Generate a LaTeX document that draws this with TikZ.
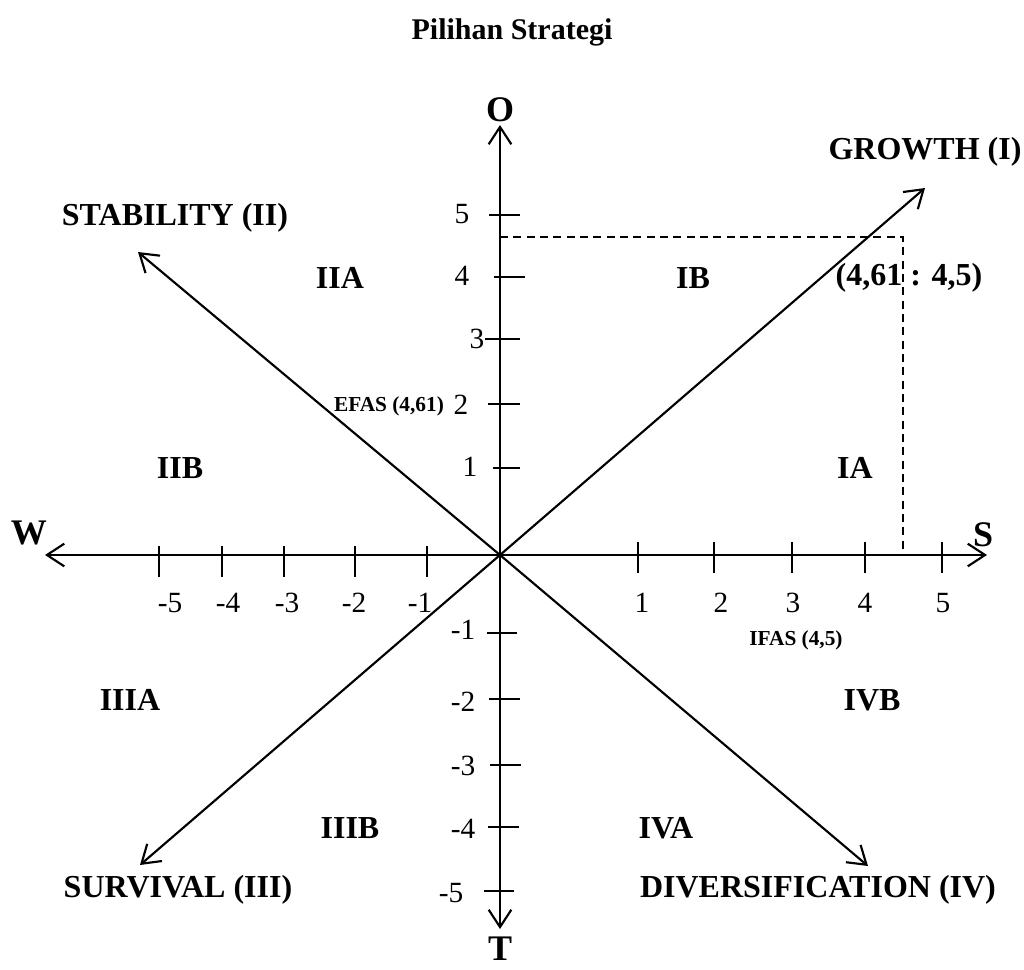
\documentclass[tikz,border=0pt]{standalone}
\usepackage{fontspec}
\setmainfont{Liberation Serif}
\usetikzlibrary{arrows.meta}
\tikzset{
  axisline/.style={line width=1.6pt, -{Straight Barb[length=13pt,width=17pt,line width=1.6pt]}},
  tickline/.style={line width=1.6pt},
  dashline/.style={line width=1.2pt, dash pattern=on 6pt off 4pt},
  ttl/.style={font=\fontsize{22.5}{27}\selectfont\bfseries, inner sep=0pt},
  big/.style={font=\fontsize{24}{29}\selectfont\bfseries, inner sep=0pt},
  axl/.style={font=\fontsize{27}{32}\selectfont\bfseries, inner sep=0pt},
  num/.style={font=\fontsize{22}{26}\selectfont, inner sep=0pt},
  small/.style={font=\fontsize{16}{19}\selectfont\bfseries, inner sep=0pt},
}
\begin{document}
\begin{tikzpicture}[x=0.75pt,y=-0.75pt]
\useasboundingbox (0,0) rectangle (1024,970);
% origin and arrow ends
\coordinate (o) at (500,555);
\coordinate (wend) at (45,555);
\coordinate (send) at (987,555);
\coordinate (oend) at (500,125);
\coordinate (tend) at (500,929);
\coordinate (grow) at (925,188);
\coordinate (stab) at (138,252);
\coordinate (surv) at (140,865);
\coordinate (div) at (868,866);
% axes
\draw[axisline] (o) -- (wend);
\draw[axisline] (o) -- (send);
\draw[axisline] (o) -- (oend);
\draw[axisline] (o) -- (tend);
% diagonals
\draw[axisline] (o) -- (grow);
\draw[axisline] (o) -- (stab);
\draw[axisline] (o) -- (surv);
\draw[axisline] (o) -- (div);
% x ticks
\foreach \x in {159,222,284,355,427} \draw[tickline] (\x,546) -- (\x,577);
\foreach \x in {638,714,792,865,942} \draw[tickline] (\x,542) -- (\x,573);
% y ticks
\draw[tickline] (489,215) -- (520,215);
\draw[tickline] (494,277) -- (525,277);
\draw[tickline] (485,339) -- (520,339);
\draw[tickline] (488,404) -- (520,404);
\draw[tickline] (493,468) -- (520,468);
\draw[tickline] (487,633) -- (517,633);
\draw[tickline] (489,699) -- (520,699);
\draw[tickline] (490,765) -- (521,765);
\draw[tickline] (488,827) -- (519,827);
\draw[tickline] (484,891) -- (514,891);
% dashed lines
\coordinate (dy) at (500,237);
\coordinate (dc) at (903,237);
\coordinate (dx) at (903,555);
\draw[dashline] (dy) -- (dc) -- (dx);
% axis letters
\node[axl] (lo) at (500,110) {O};
\node[axl] (lw) at (29,533) {W};
\node[axl] (ls) at (983,535) {S};
\node[axl] (lt) at (500,949) {T};
% x labels
\node[num] (xm5) at (170,603) {-5};
\node[num] (xm4) at (228,603) {-4};
\node[num] (xm3) at (287,603) {-3};
\node[num] (xm2) at (354,603) {-2};
\node[num] (xm1) at (420,603) {-1};
\node[num] (x1) at (642,603) {1};
\node[num] (x2) at (721,603) {2};
\node[num] (x3) at (793,603) {3};
\node[num] (x4) at (865,603) {4};
\node[num] (x5) at (943,603) {5};
% y labels
\node[num] (y5) at (462,214) {5};
\node[num] (y4) at (462,276) {4};
\node[num] (y3) at (477,339) {3};
\node[num] (y2) at (461,405) {2};
\node[num] (y1) at (470,467) {1};
\node[num] (ym1) at (463,630) {-1};
\node[num] (ym2) at (463,702) {-2};
\node[num] (ym3) at (463,766) {-3};
\node[num] (ym4) at (463,829) {-4};
\node[num] (ym5) at (451,893) {-5};
% title and strategy labels
\node[ttl] (title) at (512,32) {Pilihan Strategi};
\node[big] (lgrow) at (925,152) {GROWTH (I)};
\node[big] (lstab) at (175,218) {STABILITY (II)};
\node[big] (lsurv) at (178,890) {SURVIVAL (III)};
\node[big] (ldiv) at (818,890) {DIVERSIFICATION (IV)};
% quadrant labels
\node[big] (iia) at (340,278) {IIA};
\node[big] (ib) at (693,278) {IB};
\node[big] (pt) at (909,278) {(4,61 : 4,5)};
\node[big] (iib) at (180,468) {IIB};
\node[big] (ia) at (855,468) {IA};
\node[big] (iiia) at (130,700) {IIIA};
\node[big] (ivb) at (872,700) {IVB};
\node[big] (iiib) at (350,828) {IIIB};
\node[big] (iva) at (666,828) {IVA};
\node[small] (efas) at (389,406) {EFAS (4,61)};
\node[small] (ifas) at (796,640) {IFAS (4,5)};
\end{tikzpicture}
\end{document}
